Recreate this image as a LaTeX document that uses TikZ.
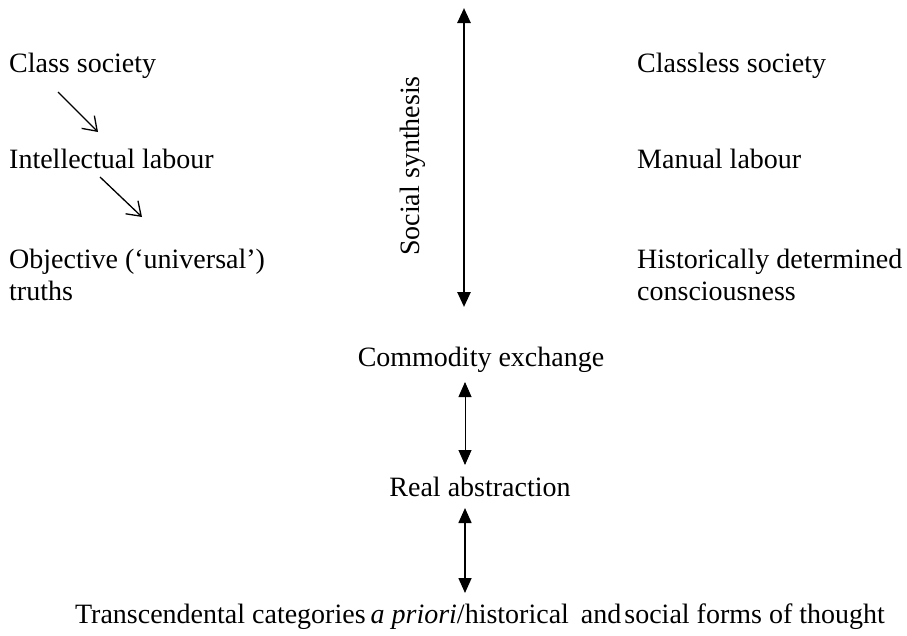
\documentclass[tikz,border=0pt]{standalone}
\usepackage{fontspec}
\setmainfont{Liberation Serif}
\usetikzlibrary{arrows.meta}
\begin{document}
\begin{tikzpicture}[x=1pt,y=-1pt,
  lbl/.style={inner sep=0pt,anchor=base west,font=\fontsize{28}{32}\selectfont},
  clbl/.style={inner sep=0pt,anchor=base,font=\fontsize{28}{32}\selectfont},
  thinarr/.style={-{Straight Barb[length=13pt,width=18pt,line width=1.3pt]},line width=1.3pt},
  dbl/.style={{Triangle[length=15pt,width=13pt]}-{Triangle[length=15pt,width=13pt]}},
]
\useasboundingbox (0,0) rectangle (907,635);
% left column
\node[lbl] (cs) at (9,72) {Class society};
\node[lbl] (il) at (9,168) {Intellectual labour};
\node[lbl] (ot) at (9,268) {Objective (‘universal’)};
\node[lbl] (tr) at (9,300) {truths};
% right column
\node[lbl] (cls) at (637,72) {Classless society};
\node[lbl] (ml) at (637,168) {Manual labour};
\node[lbl] (hd) at (637,268) {Historically determined};
\node[lbl] (hc) at (637,300) {consciousness};
% small arrows
\coordinate (a1s) at (58,92);
\coordinate (a1e) at (98,132);
\coordinate (a2s) at (100,177);
\coordinate (a2e) at (142,217);
\draw[thinarr] (a1s) -- (a1e);
\draw[thinarr] (a2s) -- (a2e);
% social synthesis
\coordinate (sst) at (464,8);
\coordinate (ssb) at (464,307);
\draw[dbl,line width=2.6pt] (sst) -- (ssb);
\node[clbl,rotate=90,anchor=center] (ss) at (413,166) {Social synthesis};
% centre column
\node[clbl] (ce) at (481,366) {Commodity exchange};
\node[clbl] (ra) at (480,496) {Real abstraction};
\node[clbl] (tc) at (480,623) {Transcendental categories\hspace{-2pt} \textit{a priori}/historical\hspace{5pt} and\hspace{-4pt} social forms of thought};
\coordinate (c1t) at (465,382);
\coordinate (c1b) at (465,465);
\coordinate (c2t) at (465,508);
\coordinate (c2b) at (465,593);
\draw[dbl,line width=0.9pt] (c1t) -- (c1b);
\draw[dbl,line width=1.6pt] (c2t) -- (c2b);
\end{tikzpicture}
\end{document}
